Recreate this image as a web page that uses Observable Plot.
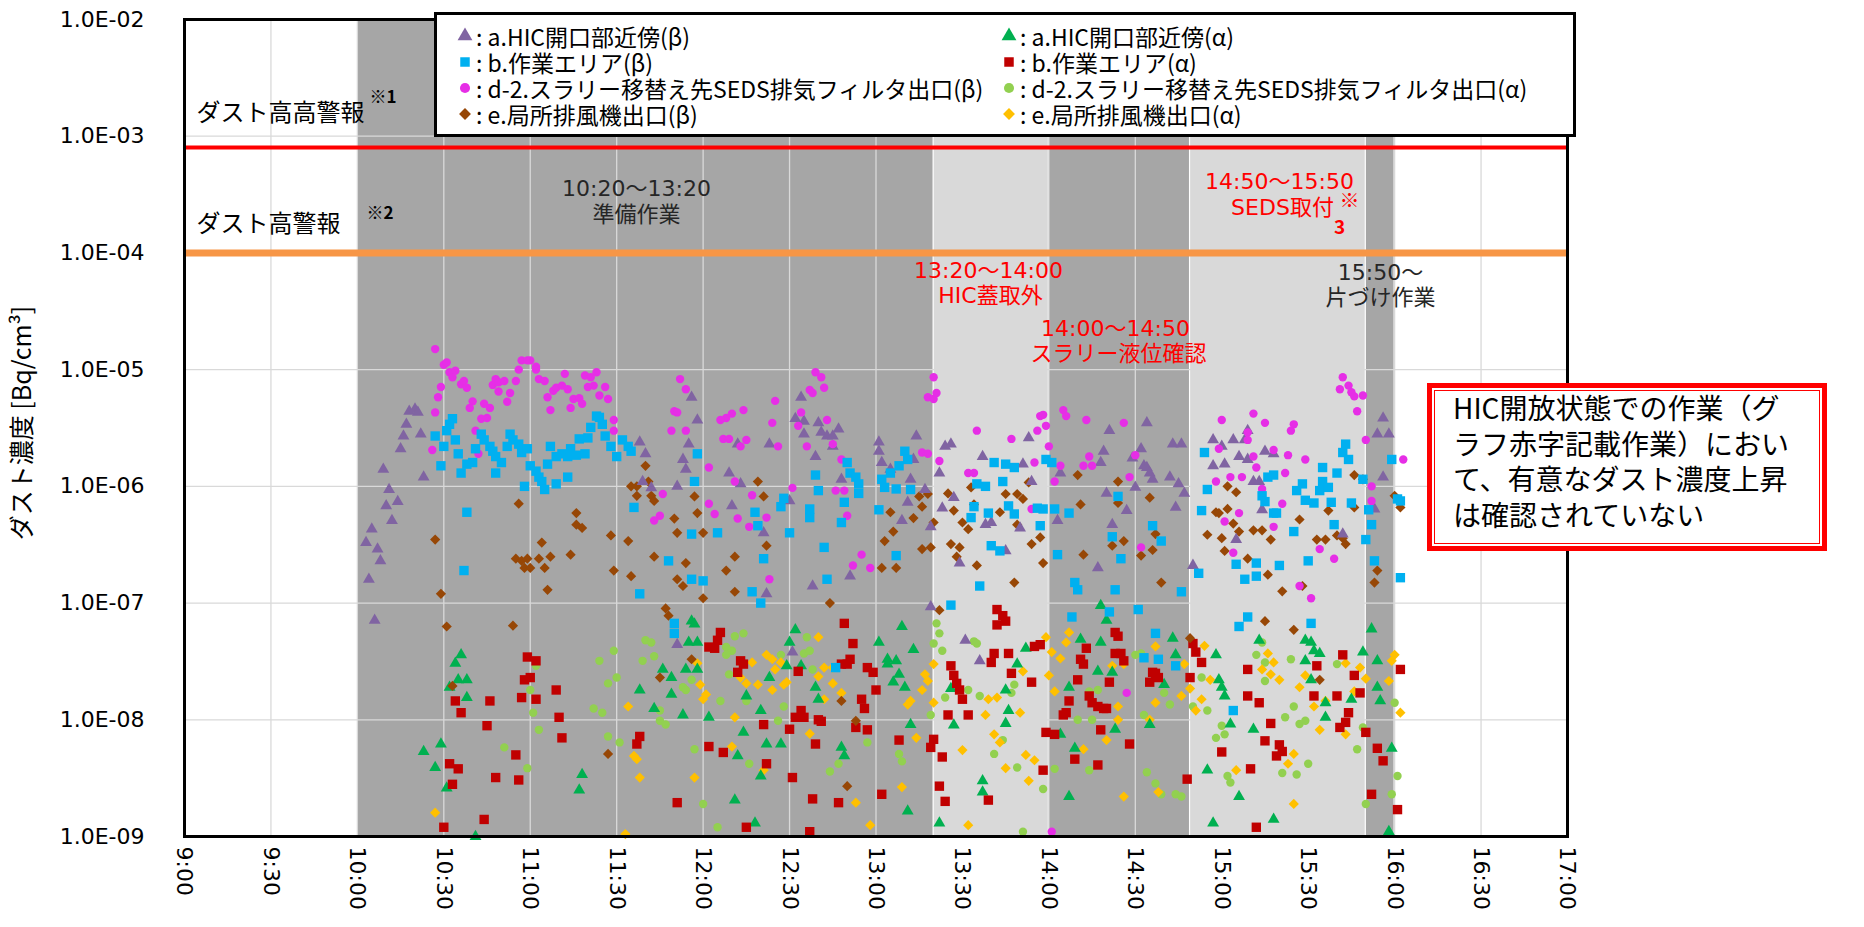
<!DOCTYPE html>
<html><head><meta charset="utf-8">
<script src="https://cdn.jsdelivr.net/npm/d3@7"></script>
<script src="https://cdn.jsdelivr.net/npm/@observablehq/plot@0.6"></script>
<style>
html,body{margin:0;padding:0;background:#fff;overflow:hidden;}
#wrap{position:relative;width:1864px;height:927px;overflow:hidden;background:#fff;}
#legend{position:absolute;left:434px;top:12px;width:1142px;height:125px;box-sizing:border-box;border:3px solid #000;background:#fff;font-family:'Noto Sans CJK JP',sans-serif;font-size:23px;color:#000;}
#legend .item{position:absolute;white-space:nowrap;line-height:26px;height:26px;}
#legend svg{position:absolute;overflow:visible;}
#note{position:absolute;left:1427px;top:383px;width:400px;height:168px;box-sizing:border-box;border:5px solid #ff0000;background:#fff;}
#note .inner{position:absolute;left:2px;top:2px;right:2px;bottom:2px;border:1.5px solid #ff0000;}
#note .txt{position:absolute;left:21px;top:2px;font-family:'Noto Sans CJK JP',sans-serif;font-size:28px;line-height:35.7px;color:#000;white-space:nowrap;}
</style></head>
<body><div id="wrap"></div>
<script>
// ---------- axis ticks ----------
const xTickLabels = ["9:00","9:30","10:00","10:30","11:00","11:30","12:00","12:30","13:00","13:30","14:00","14:30","15:00","15:30","16:00","16:30","17:00"];
const yTickValues = [1e-9,1e-8,1e-7,1e-6,1e-5,1e-4,1e-3,1e-2];

// ---------- work phases (shaded bands) ----------
const phaseStart = ["10:00","13:20","14:00","14:49","15:50"];
const phaseEnd   = ["13:20","14:00","14:49","15:50","16:00"];
const phaseTone  = ["dark","light","dark","light","dark"];

// ---------- alarm levels ----------
const alarmHighHigh = 8e-4;
const alarmHigh = 1e-4;

// ---------- series names ----------
const seriesNames = ["a.HIC開口部近傍(β)"," a.HIC開口部近傍(α)","b.作業エリア(β)","b.作業エリア(α)","d-2.スラリー移替え先SEDS排気フィルタ出口(β)","d-2.スラリー移替え先SEDS排気フィルタ出口(α)","e.局所排風機出口(β)","e.局所排風機出口(α)"];

// ---------- measurements [time, Bq/cm3] ----------
const hicBeta = [["10:03",3.3e-7],["10:05",4.3e-7],["10:07",2.9e-7],["10:08",2.3e-7],["10:04",1.6e-7],["10:06",7.1e-8],["10:09",1.4e-6],["10:11",9.4e-7],["10:10",6.8e-7],["10:12",5.1e-7],["10:14",7.4e-7],["10:15",2.1e-6],["10:16",2.7e-6],["10:17",3.4e-6],["10:18",4.4e-6],["10:20",4.6e-6],["10:21",4.3e-6],["10:22",2.8e-6],["10:23",1.2e-6],
["11:38",2.4e-6],["11:40",1.9e-6],["11:39",1.1e-6],["11:42",9.7e-7],["11:51",1.0e-6],["11:53",1.7e-6],["11:54",1.4e-6],["11:55",2.3e-6],["11:56",5.8e-6],["11:58",3.7e-6],["11:51",4.4e-8],
["12:34",5.8e-6],["12:32",3.8e-6],["12:35",3.6e-6],["12:35",2.8e-6],["12:40",3.5e-6],["12:41",2.9e-6],["12:43",2.7e-6],["12:45",2.7e-6],["12:47",3.1e-6],["12:45",2.2e-6],["12:39",1.8e-6],["12:23",2.3e-6],["12:12",2.3e-6],["12:09",1.3e-6],["12:13",1.05e-6],["12:10",6.8e-7],["12:30",7.5e-7],["12:21",4.0e-7],["12:22",1.2e-7],["12:38",1.4e-7],["12:51",1.7e-7],["12:48",1.15e-6],["13:01",2.4e-6],["13:01",2.0e-6],["13:02",1.6e-6],["13:05",1.4e-6],["13:12",1.15e-6],["13:14",2.7e-6],["13:11",7.3e-7],["13:09",5.1e-7],["13:13",1.7e-6],["13:17",9.4e-7],["13:19",4.5e-7],["13:19",9.3e-8],["13:24",2.2e-6],["13:26",2.3e-6],["13:22",1.3e-6],["13:23",6.5e-7],["13:27",8.0e-7],["13:29",2.2e-7],["13:37",1.8e-6],["13:38",4.7e-7],["13:40",4.9e-7],["13:45",2.8e-7],["13:53",2.6e-6],["13:51",1.55e-6],["13:54",1.1e-6],["13:50",4.4e-7],["13:31",4.8e-8],["13:36",3.2e-8],["12:31",3.8e-8],["14:03",5.1e-7],
["14:21",3.0e-6],["14:19",2.0e-6],["14:18",1.6e-6],["14:20",8.7e-7],["14:22",4.7e-7],["14:27",6.2e-7],["14:17",2.0e-7],["14:29",1.75e-6],["14:32",2.1e-6],["14:33",1.5e-6],["14:34",1.45e-6],["14:34",3.5e-6],["14:35",1.3e-6],["14:36",1.15e-6],["14:30",9.8e-7],["14:43",2.3e-6],["14:46",2.3e-6],["14:42",1.2e-6],["14:45",1.05e-6],["14:47",8.7e-7],["14:44",6.6e-7],["14:50",2.1e-7],["14:04",1.3e-6],
["14:57",2.5e-6],["15:00",2.2e-6],["15:04",2.5e-6],["15:08",2.5e-6],["14:57",1.5e-6],["15:01",1.55e-6],["15:06",1.8e-6],["15:09",1.7e-6],["15:11",1.1e-6],["15:13",1.1e-6],["15:15",2.0e-6],["15:18",1.9e-6],["15:05",3.5e-7],["15:14",6.3e-7],["15:09",3.0e-6],["15:42",3.9e-7],["15:56",3.85e-6],["15:54",2.8e-6],["15:58",2.8e-6],["15:56",1.2e-6],["15:53",6.4e-7]];

const hicAlpha = [["10:34",3.05e-8],["10:36",3.6e-8],["10:35",2.2e-8],["10:38",2.2e-8],["10:32",1.9e-8],["10:38",1.55e-8],["10:23",5.35e-9],["10:29",6.2e-9],["10:27",3.9e-9],["10:31",2.6e-9],["10:41",1.0e-9],["11:18",3.4e-9],["11:17",2.5e-9],["11:38",1.8e-8],["11:43",1.25e-8],["11:46",2.7e-8],["11:49",1.65e-8],["11:49",2.3e-8],["11:53",1.1e-8],["11:54",2.7e-8],["11:56",7.0e-8],["11:57",6.6e-8],["11:55",4.6e-8],["11:58",4.6e-8],["11:58",2.7e-8],["12:02",1.05e-8],
["12:32",5.9e-8],["12:30",4.6e-8],["12:34",2.9e-8],["12:29",2.9e-8],["12:23",2.3e-8],["12:15",1.6e-8],["12:20",1.2e-8],["12:14",7.8e-9],["12:22",6.2e-9],["12:27",6.2e-9],["12:12",4.9e-9],["12:20",3.3e-9],["12:11",2.05e-9],["12:18",1.3e-9],["12:39",1.9e-8],["12:40",1.5e-8],["12:48",5.8e-9],["12:49",4.9e-9],["13:01",4.6e-8],["13:04",3.3e-8],["13:07",3.2e-8],["13:04",3.0e-8],["13:08",2.45e-8],["13:06",2.1e-8],["13:10",1.9e-8],["13:09",6.3e-8],["13:13",4.0e-8],["13:12",9.1e-9],["13:11",1.65e-9],["13:22",1.3e-9],["13:26",1.85e-8],["13:27",9.0e-9],["13:37",3.0e-9],["13:37",2.4e-9],["13:45",1.8e-8],["13:46",1.2e-8],["13:45",9.3e-9],["13:49",3.0e-8],["13:52",4.1e-8],
["14:18",9.5e-8],["14:20",7.1e-8],["14:18",4.6e-8],["14:11",4.9e-8],["14:17",2.6e-8],["14:22",2.55e-8],["14:07",1.9e-8],["14:04",7.5e-9],["14:23",8.3e-9],["14:09",5.7e-9],["14:07",2.2e-9],["14:35",9.1e-9],["14:43",5.0e-8],["14:44",3.6e-8],["14:40",2.0e-8],["14:58",3.6e-8],["14:59",2.2e-8],["15:00",1.9e-8],["15:01",1.6e-8],["14:55",3.7e-9],["14:57",1.3e-9],["15:03",9.2e-9],["15:06",2.2e-9],["15:11",8.3e-9],["15:13",4.8e-8],["15:18",1.4e-9],["15:29",4.8e-8],["15:31",4.6e-8],["15:32",3.9e-8],["15:34",3.7e-8],["15:29",3.2e-8],["15:31",2.2e-8],["15:36",1.4e-8],["15:36",1.05e-8],["15:45",1.5e-8],["15:49",3.8e-8],["15:52",6.0e-8],["15:54",3.2e-8],["15:54",1.9e-8],["15:55",1.45e-8],["15:59",5.7e-9],["15:58",1.1e-9]];

const workBeta = [["10:27",2.7e-6],["10:29",1.5e-6],["10:30",2.2e-6],["10:31",3.0e-6],["10:32",3.4e-6],["10:33",3.8e-6],["10:34",2.5e-6],["10:35",1.9e-6],["10:36",1.3e-6],["10:38",1.55e-6],["10:40",1.6e-6],["10:41",2.1e-6],["10:43",2.8e-6],["10:44",2.5e-6],["10:46",2.2e-6],["10:47",2.0e-6],["10:48",1.8e-6],["10:48",1.3e-6],["10:50",1.6e-6],["10:52",2.2e-6],["10:53",2.8e-6],["10:54",2.5e-6],["10:56",2.3e-6],["10:57",1.95e-6],["10:58",1.0e-6],["10:59",2.1e-6],["11:00",1.5e-6],["11:02",1.35e-6],["11:03",1.2e-6],["11:04",1.1e-6],["11:05",9.4e-7],["11:06",1.55e-6],["11:07",2.2e-6],["11:09",1.8e-6],["11:09",1.05e-6],["11:11",1.9e-6],["11:13",1.2e-6],["11:13",1.8e-6],["11:14",2.1e-6],["11:16",1.85e-6],["11:17",2.55e-6],["11:19",1.9e-6],["11:20",2.6e-6],["11:21",3.2e-6],["11:23",4.0e-6],["11:24",3.9e-6],["11:25",3.4e-6],["11:26",2.7e-6],["11:28",2.2e-6],["11:30",1.8e-6],["11:32",2.5e-6],["11:34",2.2e-6],["11:35",2.0e-6],["10:38",6.0e-7],["10:37",1.9e-7],["11:36",6.6e-7],["11:38",1.2e-7],["11:48",2.3e-7],["11:50",6.7e-8],["11:50",5.5e-8],["11:56",3.9e-7],["11:58",1.9e-6],["11:57",1.1e-6],["11:56",1.6e-7],["12:00",1.55e-7],
["12:05",4.0e-7],["12:17",1.25e-7],["12:20",1.0e-7],["12:19",4.6e-7],["12:18",6.0e-7],["12:21",2.4e-7],["12:27",6.7e-7],["12:28",7.9e-7],["12:30",4.0e-7],["12:37",6.4e-7],["12:37",5.4e-7],["12:39",1.25e-6],["12:40",9.2e-7],["12:42",3.0e-7],["12:43",1.6e-7],["12:48",4.9e-7],["12:49",7.3e-7],["12:46",2.8e-8],["12:50",1.6e-6],["12:51",1.3e-6],["12:53",1.2e-6],["12:54",8.7e-7],["12:54",1.05e-6],["13:01",6.3e-7],["13:02",1.15e-6],["13:03",9.8e-7],["13:05",1.3e-6],["13:07",9.5e-7],["13:07",2.55e-7],["13:08",1.5e-6],["13:10",2.0e-6],["13:11",1.7e-6],["13:12",9.4e-7],["13:26",9.6e-8],["13:36",1.4e-7],["13:34",6.7e-7],["13:33",5.4e-7],["13:35",1.05e-6],["13:38",1.0e-6],["13:39",5.9e-7],["13:40",3.1e-7],["13:43",2.8e-7],["13:41",1.6e-6],["13:45",1.55e-6],["13:48",1.45e-6],["13:44",1.1e-6],["13:46",6.8e-7],["13:48",5.8e-7],["13:56",6.5e-7],["13:58",6.4e-7],["14:02",6.4e-7],["13:57",4.6e-7],["13:59",1.7e-6],["14:01",1.6e-6],["14:03",2.6e-7],
["14:24",8.2e-7],["14:07",5.9e-7],["14:22",3.7e-7],["14:25",2.4e-7],["14:36",4.6e-7],["14:39",3.4e-7],["14:09",1.5e-7],["14:10",1.3e-7],["14:23",1.3e-7],["14:46",1.25e-7],["14:08",7.6e-8],["14:21",8.4e-8],["14:31",8.8e-8],["14:37",5.5e-8],["14:33",3.4e-8],["14:38",3.3e-8],["14:44",2.9e-8],["14:54",1.95e-6],["14:55",9.4e-7],["14:53",6.2e-7],["14:52",1.8e-7],["15:05",2.15e-7],["15:08",1.6e-7],["15:12",1.7e-7],["15:12",2.2e-7],["15:20",2.1e-7],["15:06",6.3e-8],["15:09",7.6e-8],["15:14",8.3e-7],["15:15",7.4e-7],["15:16",1.2e-6],["15:18",1.25e-6],["15:18",5.9e-7],["15:19",5.9e-7],["15:25",4.1e-7],["15:26",9.2e-7],["15:28",1.05e-6],["15:29",7.6e-7],["15:32",7.2e-7],["15:34",9.2e-7],["15:35",1.1e-6],["15:37",9.8e-7],["15:35",1.45e-6],["15:38",7.3e-7],["15:40",1.3e-6],["15:42",1.95e-6],["15:43",2.3e-6],["15:44",1.7e-6],["15:45",7.2e-7],["15:49",1.15e-6],["15:51",6.3e-7],["15:52",4.7e-7],["15:50",3.5e-7],["15:53",2.3e-7],["15:31",6.7e-8],["15:30",2.3e-7],["15:39",4.7e-7],["15:04",1.2e-8],["15:59",1.7e-6],["16:01",7.8e-7],["16:02",7.5e-7],["16:02",1.65e-7]];

const workAlpha = [["10:59",3.45e-8],["11:02",3.2e-8],["10:58",2.2e-8],["11:00",2.3e-8],["10:57",1.55e-8],["11:02",1.5e-8],["11:09",1.8e-8],["11:10",1.05e-8],["11:11",7.0e-9],["10:34",1.45e-8],["10:36",1.15e-8],["10:46",1.45e-8],["10:45",8.9e-9],["10:55",5.0e-9],["10:32",4.2e-9],["10:35",3.8e-9],["10:33",2.8e-9],["10:48",3.2e-9],["10:56",3.05e-9],["10:30",1.2e-9],["10:44",1.4e-9],["11:38",7.2e-9],["11:37",6.2e-9],["11:51",1.95e-9],["12:02",5.9e-9],["12:02",4.2e-8],
["12:06",5.6e-8],["12:05",4.8e-8],["12:04",4.1e-8],["12:13",3.2e-8],["12:14",3.0e-8],["12:12",2.55e-8],["12:33",2.6e-8],["12:49",6.7e-8],["12:52",4.5e-8],["12:51",3.3e-8],["12:48",3.0e-8],["12:50",3.0e-8],["12:57",2.8e-8],["12:59",2.55e-8],["13:00",1.8e-8],["12:55",1.5e-8],["12:56",1.25e-8],["12:57",8.2e-9],["12:53",8.6e-9],["12:21",9.1e-9],["12:30",8.3e-9],["12:32",1.05e-8],["12:34",1.2e-8],["12:35",1.05e-8],["12:40",1.0e-8],["12:41",9.7e-9],["12:07",5.25e-9],["12:22",4.2e-9],["12:31",3.2e-9],["12:39",6.2e-9],["12:38",2.1e-9],["12:47",1.95e-9],["13:02",2.3e-9],["13:08",6.7e-9],["12:15",1.2e-9],["12:37",1.1e-9],["13:20",6.8e-9],["13:19",5.8e-9],["13:23",4.8e-9],["13:22",2.7e-9],["13:24",2.0e-9],["13:26",2.9e-8],["13:27",2.4e-8],["13:28",2.05e-8],["13:29",1.8e-8],["13:30",1.5e-8],["13:25",1.1e-8],["13:32",1.1e-8],["13:42",8.8e-8],["13:44",7.8e-8],["13:42",6.5e-8],["13:45",7.0e-8],["13:41",3.7e-8],["13:40",3.1e-8],["13:46",3.7e-8],["13:47",2.5e-8],["13:55",4.25e-8],["13:57",4.4e-8],["13:54",2.1e-8],["13:39",2.05e-9],["13:58",3.7e-9],["13:59",7.8e-9],["14:02",7.5e-9],
["14:23",5.6e-8],["14:24",5.2e-8],["14:13",4.1e-8],["14:11",3.3e-8],["14:12",3.0e-8],["14:21",2.1e-8],["14:10",2.2e-8],["14:07",1.45e-8],["14:14",1.6e-8],["14:15",1.4e-8],["14:17",1.3e-8],["14:19",1.25e-8],["14:20",1.25e-8],["14:06",1.15e-8],["14:05",1.1e-8],["14:23",3.7e-8],["14:25",3.7e-8],["14:26",3.2e-8],["14:36",2.55e-8],["14:37",2.5e-8],["14:35",2.1e-8],["14:38",2.3e-8],["14:50",4.5e-8],["14:51",3.8e-8],["14:53",3.1e-8],["14:49",2.3e-8],["14:18",8.2e-9],["14:28",6.2e-9],["14:09",4.6e-9],["14:17",4.1e-9],["14:48",3.1e-9],["15:00",5.3e-9],["15:09",2.7e-8],["15:09",1.6e-8],["15:13",1.4e-8],["15:17",9.3e-9],["15:15",6.6e-9],["15:20",6.1e-9],["15:21",5.35e-9],["15:19",4.9e-9],["15:10",3.8e-9],["15:12",1.2e-9],["15:32",1.6e-8],["15:33",2.9e-8],["15:40",1.6e-8],["15:42",3.6e-8],["15:44",1.15e-8],["15:43",9.5e-9],["15:41",8.6e-9],["15:46",2.4e-8],["15:48",1.7e-8],["15:50",7.8e-9],["15:54",5.7e-9],["15:56",4.45e-9],["16:02",2.7e-8],["15:52",2.3e-9],["16:01",1.7e-9]];

const sedsBeta = [["10:27",1.5e-5],["10:30",1.1e-5],["10:31",1.15e-5],["10:32",9.5e-6],["10:34",9.8e-6],["10:33",8.6e-6],["10:29",7.1e-6],["10:28",5.8e-6],["10:27",4.3e-6],["10:26",2.05e-6],["10:36",7.5e-6],["10:37",8.0e-6],["10:38",7.0e-6],["10:40",5.35e-6],["10:39",4.7e-6],["10:43",3.8e-6],["10:45",3.85e-6],["10:44",5.1e-6],["10:46",4.7e-6],["10:41",3.0e-6],["10:42",1.9e-6],["10:48",8.3e-6],["10:47",7.4e-6],["10:49",7.8e-6],["10:51",8.0e-6],["10:49",6.5e-6],["10:53",6.3e-6],["10:52",5.3e-6],["10:55",8.0e-6],["10:56",1.0e-5],["10:57",1.2e-5],["10:59",1.2e-5],["11:00",1.2e-5],["11:02",1.06e-5],["11:02",1.0e-5],["11:03",8.3e-6],["11:05",8.0e-6],["11:06",5.8e-6],["11:07",4.5e-6],["11:08",6.6e-6],["11:09",7.0e-6],["11:11",7.3e-6],["11:12",9.2e-6],["11:13",6.8e-6],["11:15",5.6e-6],["11:14",4.7e-6],["11:17",5.7e-6],["11:18",5.1e-6],["11:19",8.9e-6],["11:21",8.6e-6],["11:22",7.3e-6],["11:23",9.5e-6],["11:20",7.1e-6],["11:24",6.0e-6],["11:26",7.1e-6],["11:27",5.6e-6],["11:29",3.7e-6],["11:29",3.0e-6],["11:52",8.3e-6],["11:54",6.8e-6],["11:50",4.4e-6],["11:51",4.3e-6],["11:49",3.0e-6],["11:54",3.0e-6],["11:46",8.6e-7],["11:45",5.6e-7],["11:43",5.1e-7],["12:02",1.45e-6],["12:02",7.1e-7],
["12:39",9.5e-6],["12:41",8.6e-6],["12:42",7.0e-6],["12:37",6.7e-6],["12:38",6.3e-6],["12:25",5.4e-6],["12:14",4.5e-6],["12:10",4.2e-6],["12:08",3.85e-6],["12:06",3.7e-6],["12:24",3.5e-6],["12:07",2.55e-6],["12:09",2.55e-6],["12:15",2.5e-6],["12:13",2.2e-6],["12:26",2.2e-6],["12:34",4.3e-6],["12:33",3.3e-6],["12:36",2.2e-6],["12:43",3.7e-6],["12:45",2.3e-6],["12:48",1.7e-6],["12:11",1.1e-6],["12:17",8.4e-7],["12:04",5.8e-7],["12:12",5.3e-7],["12:16",4.5e-7],["12:22",5.4e-7],["12:31",9.7e-7],["12:46",9.2e-7],["12:49",9.2e-7],["12:50",5.6e-7],["12:55",2.6e-7],["12:52",2.1e-7],["12:58",2.0e-7],["12:23",1.6e-7],["13:16",1.95e-6],["13:18",1.9e-6],["13:18",5.8e-6],["13:20",5.6e-6],["13:21",6.3e-6],["13:20",8.6e-6],["13:22",1.65e-6],["13:35",3.0e-6],["13:32",1.3e-6],["13:34",1.3e-6],["13:47",2.55e-6],["13:57",4.0e-6],["13:58",4.1e-6],["13:56",3.0e-6],["13:59",3.3e-6],["14:00",2.2e-6],["13:55",1.6e-6],["14:02",1.1e-6],["13:54",6.4e-7],["14:01",1.1e-9],
["14:05",4.5e-6],["14:06",4.0e-6],["14:13",3.7e-6],["14:26",3.5e-6],["14:14",1.8e-6],["14:12",1.5e-6],["14:15",1.5e-6],["14:04",1.5e-6],["14:28",1.2e-6],["14:30",1.85e-6],["14:32",3.0e-7],["14:27",1.7e-8],["15:00",3.7e-6],["15:11",4.2e-6],["15:15",3.5e-6],["15:25",3.4e-6],["15:24",3.0e-6],["15:09",2.9e-6],["15:09",2.5e-6],["14:59",2.1e-6],["15:11",1.8e-6],["15:12",1.45e-6],["15:18",2.05e-6],["15:23",1.85e-6],["15:29",1.7e-6],["15:22",1.3e-6],["15:03",1.2e-6],["15:07",1.2e-6],["14:58",1.1e-6],["15:14",9.5e-7],["15:21",7.1e-7],["15:06",5.9e-7],["15:01",5.0e-7],["15:18",4.5e-7],["15:04",2.7e-7],["15:34",2.9e-7],["15:39",2.4e-7],["15:27",1.4e-7],["15:31",1.1e-7],["15:42",8.6e-6],["15:41",6.8e-6],["15:44",7.3e-6],["15:45",6.4e-6],["15:46",5.9e-6],["15:49",6.0e-6],["15:47",4.4e-6],["15:50",2.5e-6],["15:52",1.0e-6],["15:52",7.5e-7],["16:03",1.7e-6]];

const sedsAlpha = [["11:02",2.9e-8],["11:00",1.8e-8],["11:01",1.15e-8],["11:03",8.2e-9],["10:51",5.8e-9],["10:59",3.85e-9],["11:24",3.2e-8],["11:29",3.9e-8],["11:27",2.05e-8],["11:30",2.3e-8],["11:22",1.25e-8],["11:25",1.15e-8],["11:27",7.2e-9],["11:31",6.4e-9],["11:40",4.8e-8],["11:42",4.6e-8],["11:39",3.2e-8],["11:43",3.5e-8],["11:53",1.9e-8],["11:54",1.8e-8],["11:56",2.2e-8],["11:45",1.2e-8],["11:45",9.8e-9],["11:47",9.1e-9],["11:57",5.6e-9],["12:00",1.9e-9],
["12:11",5.2e-8],["12:14",5.5e-8],["12:08",4.2e-8],["12:10",3.9e-8],["12:08",3.6e-8],["12:09",2.45e-8],["12:06",1.45e-8],["12:15",1.45e-8],["12:16",4.2e-9],["12:27",3.6e-8],["12:35",3.7e-8],["12:36",5.1e-8],["12:37",3.9e-8],["12:28",1.3e-8],["12:26",9.8e-9],["12:38",2.7e-8],["12:47",4.2e-9],["12:44",3.6e-9],["12:57",6.4e-9],["13:08",5.1e-9],["13:09",4.4e-9],["13:21",6.7e-8],["13:22",5.5e-8],["13:23",3.9e-8],["13:20",4.5e-8],["13:19",1.1e-8],["13:24",1.55e-8],["13:32",1.8e-8],["13:36",1.6e-8],["13:34",4.7e-8],["13:35",4.5e-8],["13:48",2.0e-8],["13:47",1.7e-8],["13:41",5.1e-9],["13:44",6.7e-9],["13:49",3.9e-9],["13:58",2.55e-9],["14:02",3.8e-9],["12:05",1.2e-9],["13:51",1.1e-9],
["14:14",1.75e-8],["14:10",1.0e-8],["14:15",1.0e-8],["14:14",3.7e-9],["14:17",1.8e-8],["14:30",3.6e-8],["14:32",3.7e-8],["14:33",1.1e-8],["14:34",3.55e-9],["14:37",2.85e-9],["14:39",2.3e-9],["14:44",2.3e-9],["14:46",2.2e-9],["14:40",1.7e-8],["14:42",1.35e-8],["14:50",1.3e-8],["14:53",2.3e-8],["14:55",1.2e-8],["14:58",7.0e-9],["15:00",8.9e-9],["15:01",7.5e-9],["15:02",3.3e-9],["15:03",2.9e-9],["15:12",3.6e-8],["15:14",4.6e-8],["15:15",3.1e-8],["15:15",2.15e-8],["15:22",1.05e-8],["15:24",3.3e-8],["15:25",1.3e-8],["15:27",9.2e-9],["15:29",9.8e-9],["15:30",4.2e-9],["15:21",3.5e-9],["15:26",3.4e-9],["15:40",3.0e-8],["15:47",5.6e-9],["15:50",1.9e-9],["15:49",8.6e-9],["16:00",1.4e-8],["16:01",3.3e-9],["15:59",2.3e-9]];

const fanBeta = [["10:27",3.5e-7],["10:29",1.2e-7],["10:31",6.3e-8],["10:33",1.95e-8],["10:56",7.1e-7],["10:54",6.4e-8],["10:55",2.4e-7],["10:57",2.3e-7],["10:58",2.0e-7],["10:59",2.4e-7],["11:00",2.0e-7],["11:03",2.4e-7],["11:04",3.3e-7],["11:05",2.0e-7],["11:07",2.5e-7],["11:06",1.3e-7],["11:14",2.6e-7],["11:16",4.7e-7],["11:16",5.9e-7],["11:18",4.4e-7],["11:28",3.8e-7],["11:34",3.4e-7],["11:29",1.9e-7],["11:35",1.7e-7],["11:27",5.1e-9],["11:35",1.0e-6],["11:37",1.0e-6],["11:37",8.3e-7],["11:40",1.5e-6],["11:41",1.1e-6],["11:42",8.3e-7],["11:43",7.5e-7],["11:43",2.5e-7],["11:47",9.0e-8],["11:48",7.8e-8],["11:50",5.3e-7],["11:51",4.0e-7],["11:54",2.2e-7],["11:51",1.6e-7],["11:53",1.4e-7],["11:57",8.2e-7],["11:58",5.9e-7],["12:00",4.0e-7],["12:00",1.1e-7],["11:45",2.3e-8],["11:56",3.3e-8],
["12:19",1.1e-6],["12:21",8.2e-7],["12:22",3.1e-7],["12:11",2.5e-7],["12:08",1.9e-7],["12:11",1.25e-7],["12:44",1.0e-7],["12:50",2.7e-9],["12:48",1.45e-8],["13:02",2.0e-7],["13:03",3.4e-7],["13:06",4.1e-7],["13:05",6.0e-7],["13:07",2.0e-7],["13:13",5.35e-7],["13:16",6.7e-7],["13:15",8.2e-7],["13:18",8.6e-7],["13:20",4.9e-7],["13:16",2.9e-7],["13:19",3.0e-7],["13:22",8.7e-8],["13:25",8.7e-7],["13:27",6.2e-7],["13:30",4.9e-7],["13:32",4.3e-7],["13:26",3.2e-7],["13:29",3.0e-7],["13:28",2.5e-7],["13:35",2.1e-7],["13:33",9.8e-7],["13:34",7.0e-7],["13:43",6.0e-7],["13:45",8.6e-7],["13:49",4.7e-7],["13:49",8.6e-7],["13:51",7.8e-7],["13:53",1.08e-6],["13:48",1.5e-7],["13:54",3.2e-7],["13:57",3.65e-7],["13:58",2.2e-7],["12:53",9.8e-9],
["14:10",1.25e-6],["14:11",7.0e-7],["14:24",1.1e-6],["14:24",7.2e-7],["14:35",8.0e-7],["14:26",3.4e-7],["14:22",3.1e-7],["14:12",2.6e-7],["14:32",2.55e-7],["14:36",2.85e-7],["14:37",3.9e-7],["14:39",1.5e-7],["15:02",1.0e-6],["15:05",8.9e-7],["14:58",6.0e-7],["15:02",6.4e-7],["14:59",5.9e-7],["15:04",4.8e-7],["15:06",4.1e-7],["14:55",3.85e-7],["15:00",3.6e-7],["15:01",2.8e-7],["15:09",2.4e-7],["15:11",4.2e-7],["15:14",4.2e-7],["15:17",3.5e-7],["15:16",1.75e-7],["15:21",1.26e-7],["15:28",1.4e-7],["15:27",5.2e-7],["15:33",3.5e-7],["15:36",3.5e-7],["15:40",3.8e-7],["15:42",3.6e-7],["15:43",3.2e-7],["15:37",6.2e-7],["15:46",1.25e-6],["15:46",6.6e-7],["15:49",1.15e-6],["15:15",7.0e-8],["15:25",5.9e-8],["15:54",1.9e-7],["15:53",1.5e-7],["16:00",8.3e-7],["16:02",6.6e-7],["14:49",5.0e-8],["15:34",2.2e-8]];

const fanAlpha = [["10:27",1.6e-9],["11:33",1.05e-9],["11:34",1.3e-8],["11:36",4.9e-9],["11:37",4.6e-9],["11:38",3.2e-9],["11:57",3.2e-9],["11:58",3.05e-8],["11:59",2.0e-8],["12:00",1.5e-8],["12:01",1.65e-8],
["12:40",5.1e-8],["12:22",3.6e-8],["12:24",3.3e-8],["12:27",3.1e-8],["12:17",3.1e-8],["12:13",2.3e-8],["12:15",2.05e-8],["12:19",2.0e-8],["12:25",2.7e-8],["12:24",1.8e-8],["12:28",2.0e-8],["12:29",2.1e-8],["12:11",1.05e-8],["12:10",5.9e-9],["12:21",3.7e-9],["12:37",7.6e-9],["12:42",2.8e-8],["12:45",2.8e-8],["12:40",2.35e-8],["12:45",2.05e-8],["12:48",1.7e-8],["12:42",1.5e-8],["13:17",2.45e-8],["13:18",2.15e-8],["13:20",3.0e-8],["13:16",1.8e-8],["13:20",1.4e-8],["13:11",1.35e-8],["13:12",1.45e-8],["13:14",7.0e-9],["13:09",2.65e-9],["12:53",1.95e-9],["12:58",1.25e-9],["13:30",5.5e-9],["13:32",1.25e-9],["13:39",1.5e-8],["13:42",1.55e-8],["13:38",1.1e-8],["13:41",7.5e-9],["13:43",6.4e-9],["13:45",3.85e-9],["13:50",1.15e-8],["13:53",3.0e-9],["13:52",5.0e-9],["13:55",4.5e-9],["13:51",2.6e-8],["13:59",5.1e-8],["14:00",2.4e-8],["14:01",3.8e-8],["14:02",1.75e-8],
["14:07",5.6e-8],["14:06",4.6e-8],["14:04",3.35e-8],["14:20",6.7e-9],["14:12",5.6e-9],["14:24",1.3e-8],["14:24",1.0e-8],["14:22",2.9e-8],["14:26",3.0e-8],["14:37",4.25e-8],["14:37",1.4e-8],["14:35",1.0e-8],["14:38",2.4e-9],["14:26",2.2e-9],["14:46",1.6e-8],["14:47",3.0e-8],["14:49",1.85e-8],["14:53",1.5e-8],["14:51",1.2e-8],["14:54",4.3e-8],["14:56",2.2e-8],["15:05",3.7e-9],["15:14",2.7e-8],["15:16",3.7e-8],["15:18",3.1e-8],["15:17",2.45e-8],["15:20",2.2e-8],["15:27",1.9e-8],["15:29",2.4e-8],["15:32",1.3e-8],["15:36",1.45e-8],["15:34",8.2e-9],["15:25",5.1e-9],["15:23",4.2e-9],["15:25",1.9e-9],["15:43",3.05e-8],["15:48",2.8e-8],["15:50",2.25e-8],["15:58",2.15e-8],["15:59",3.2e-8],["16:00",3.6e-8],["16:02",1.15e-8],["15:43",7.5e-9],["15:46",1.75e-8]];

// ---------- helpers ----------
const toMin = s => { const [h, m] = s.split(":").map(Number); return h * 60 + m; };
const fmtTime = m => `${Math.floor(m / 60)}:${String(m % 60).padStart(2, "0")}`;
const rows = arr => arr.map(([t, v]) => ({t: toMin(t), v}));
const phases = phaseStart.map((s, i) => ({start: toMin(s), end: toMin(phaseEnd[i]), tone: phaseTone[i]}));

// ---------- styling (kept apart from data) ----------
const styles = [
  {data: sedsAlpha, symbol: "circle",   fill: "#92d050", r: 4.2},
  {data: fanAlpha,  symbol: "diamond2", fill: "#ffc000", r: 4.6},
  {data: hicAlpha,  symbol: "triangle", fill: "#00b050", r: 4.4},
  {data: workAlpha, symbol: "square",   fill: "#c00000", r: 5.3},
  {data: fanBeta,   symbol: "diamond2", fill: "#974706", r: 4.6},
  {data: hicBeta,   symbol: "triangle", fill: "#8064a2", r: 4.4},
  {data: sedsBeta,  symbol: "circle",   fill: "#e62ee6", r: 4.2},
  {data: workBeta,  symbol: "square",   fill: "#00b0f0", r: 5.3}
];

const ML = 184, MT = 19;
const cjk = "'Noto Sans CJK JP', sans-serif";
const mixed = "'DejaVu Sans', 'Noto Sans CJK JP', sans-serif";
const notes = [
  {text: "ダスト高高警報", x: 196, y: 113, anchor: "start", size: 24, color: "#000", font: cjk},
  {text: "※1", x: 369, y: 97, anchor: "start", size: 17, color: "#000", weight: "bold", font: cjk},
  {text: "ダスト高警報", x: 196, y: 224, anchor: "start", size: 24, color: "#000", font: cjk},
  {text: "※2", x: 366, y: 213, anchor: "start", size: 17, color: "#000", weight: "bold", font: cjk},
  {text: "10:20～13:20", x: 636, y: 188, size: 22, color: "#262626", font: mixed},
  {text: "準備作業", x: 636, y: 214, size: 22, color: "#262626", font: cjk},
  {text: "13:20～14:00", x: 988, y: 270, size: 22, color: "#ff0000", font: mixed},
  {text: "HIC蓋取外", x: 990, y: 295, size: 22, color: "#ff0000", font: mixed},
  {text: "14:00～14:50", x: 1115, y: 328, size: 22, color: "#ff0000", font: mixed},
  {text: "スラリー液位確認", x: 1118, y: 353, size: 22, color: "#ff0000", font: cjk},
  {text: "14:50～15:50", x: 1279, y: 181, size: 22, color: "#ff0000", font: mixed},
  {text: "SEDS取付", x: 1282, y: 207, size: 22, color: "#ff0000", font: mixed},
  {text: "※", x: 1349, y: 201, size: 20, color: "#ff0000", font: cjk},
  {text: "3", x: 1339, y: 227, size: 19, color: "#ff0000", weight: "bold", font: cjk},
  {text: "15:50～", x: 1380, y: 272, size: 22, color: "#262626", font: mixed},
  {text: "片づけ作業", x: 1380, y: 297, size: 22, color: "#262626", font: cjk}
];

const chart = Plot.plot({
  width: 1864, height: 927,
  marginLeft: ML, marginRight: 297, marginTop: MT, marginBottom: 91,
  style: {fontFamily: "'DejaVu Sans', Verdana, sans-serif", fontSize: "22px", color: "#000", background: "#fff", overflow: "visible"},
  x: {domain: [540, 1020], ticks: xTickLabels.map(toMin), tickFormat: fmtTime, tickRotate: 90, tickSize: 0, tickPadding: 10, label: null},
  y: {type: "log", domain: [1e-9, 1e-2], ticks: yTickValues, tickFormat: d => "1.0E-" + String(Math.round(-Math.log10(d))).padStart(2, "0"), tickSize: 0, tickPadding: 40, label: null},
  marks: [
    Plot.rect(phases.filter(d => d.tone === "dark"), {x1: "start", x2: "end", fill: "#a6a6a6", insetLeft: 0.6, insetRight: 0.6}),
    Plot.rect(phases.filter(d => d.tone === "light"), {x1: "start", x2: "end", fill: "#d9d9d9", insetLeft: 0.6, insetRight: 0.6}),
    Plot.ruleX(xTickLabels.map(toMin), {stroke: "#d9d9d9", strokeWidth: 1.3, strokeOpacity: 1}),
    Plot.ruleY(yTickValues, {stroke: "#d9d9d9", strokeWidth: 1.3, strokeOpacity: 1}),
    Plot.ruleY([alarmHighHigh], {stroke: "#ff0000", strokeWidth: 4}),
    Plot.ruleY([alarmHigh], {stroke: "#f79646", strokeWidth: 7}),
    ...styles.map(s => Plot.dot(rows(s.data), {x: "t", y: "v", symbol: s.symbol, fill: s.fill, r: s.r, stroke: "none"})),
    ...notes.map(n => Plot.text([n.text], {frameAnchor: "top-left", dx: n.x - ML, dy: n.y - MT, text: d => d, textAnchor: n.anchor || "middle", lineAnchor: "middle", fontSize: n.size, fill: n.color, fontWeight: n.weight || "normal", fontFamily: n.font})),
    Plot.text(["ダスト濃度 [Bq/cm³]"], {frameAnchor: "left", dx: -162, dy: -5, rotate: -90, text: d => d, textAnchor: "middle", lineAnchor: "middle", fontSize: 25, fill: "#000", fontFamily: cjk}),
    Plot.frame({stroke: "#000", strokeWidth: 3})
  ]
});

const wrap = document.getElementById("wrap");
wrap.appendChild(chart);

// ---------- legend (HTML overlay) ----------
const legend = document.createElement("div");
legend.id = "legend";
wrap.appendChild(legend);
const legendSymbols = [
  {symbol: d3.symbolTriangle, fill: "#8064a2", size: 95}, {symbol: d3.symbolTriangle, fill: "#00b050", size: 95},
  {symbol: d3.symbolSquare, fill: "#00b0f0", size: 90}, {symbol: d3.symbolSquare, fill: "#c00000", size: 90},
  {symbol: d3.symbolCircle, fill: "#e62ee6", size: 80}, {symbol: d3.symbolCircle, fill: "#92d050", size: 80},
  {symbol: d3.symbolDiamond2, fill: "#974706", size: 90}, {symbol: d3.symbolDiamond2, fill: "#ffc000", size: 90}
];
seriesNames.forEach((name, i) => {
  const col = i % 2, row = Math.floor(i / 2);
  const cx = col === 0 ? 28 : 572;
  const cy = 21 + row * 26;
  const svg = d3.create("svg").attr("width", 20).attr("height", 20)
    .style("left", (cx - 10) + "px").style("top", (cy - 10) + "px");
  svg.append("path").attr("transform", "translate(10,10)")
    .attr("d", d3.symbol(legendSymbols[i].symbol, legendSymbols[i].size)())
    .attr("fill", legendSymbols[i].fill);
  legend.appendChild(svg.node());
  const item = document.createElement("div");
  item.className = "item";
  item.style.left = (cx + 11) + "px";
  item.style.top = (cy - 13) + "px";
  item.textContent = ": " + name;
  legend.appendChild(item);
});

// ---------- note box ----------
const note = document.createElement("div");
note.id = "note";
note.innerHTML = '<div class="inner"></div><div class="txt">HIC開放状態での作業（グ<br>ラフ赤字記載作業）におい<br>て、有意なダスト濃度上昇<br>は確認されていない</div>';
wrap.appendChild(note);
</script>
</body></html>
